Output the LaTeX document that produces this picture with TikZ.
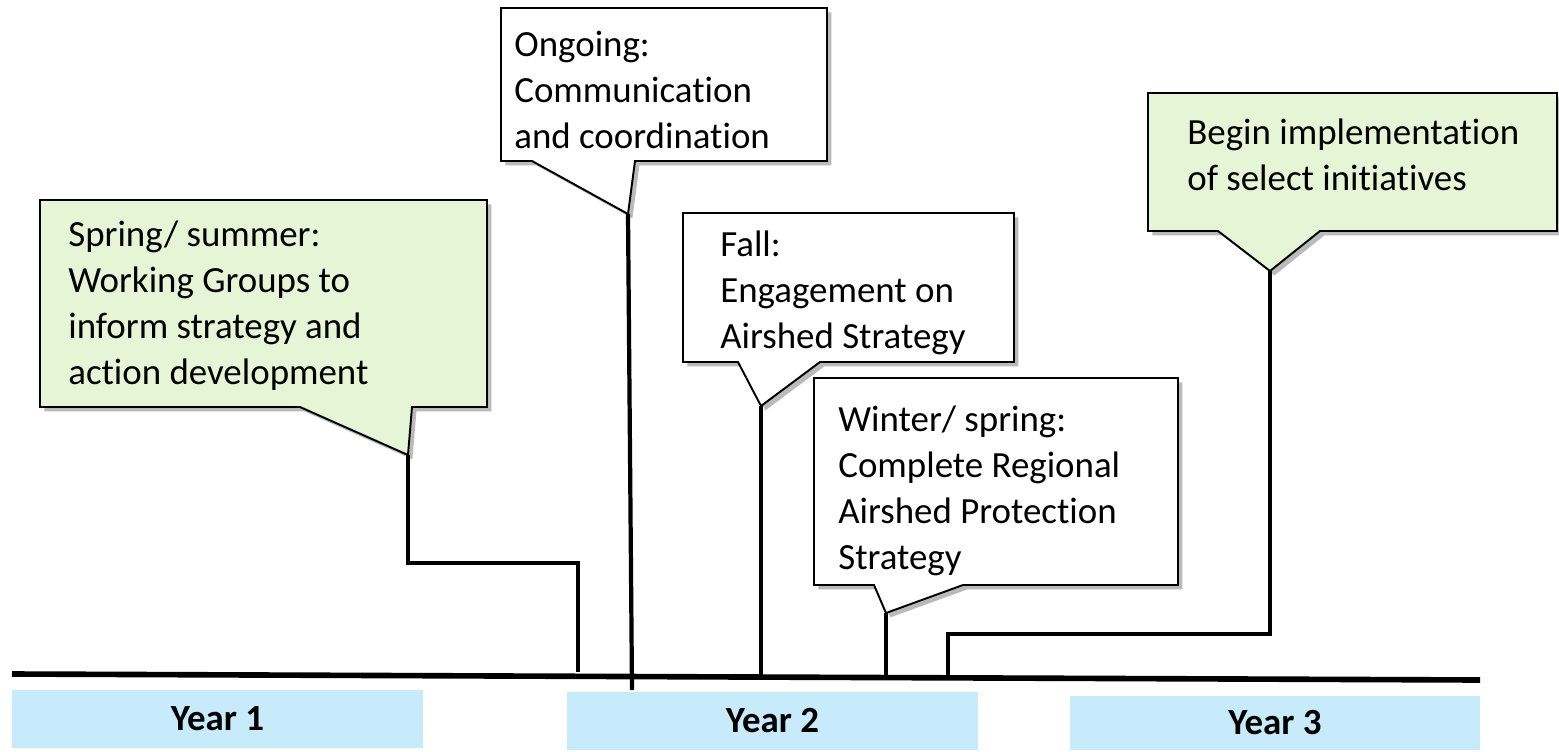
\documentclass[tikz,border=0pt]{standalone}
\usepackage{fontspec}
\setmainfont[Ligatures={NoCommon,NoContextual},RawFeature={-liga;-clig;-calt}]{Carlito}
\usetikzlibrary{shadows}
\definecolor{calgreen}{RGB}{229,245,213}
\definecolor{yearblue}{RGB}{199,235,251}
\begin{document}
\begin{tikzpicture}[x=0.02cm,y=-0.02cm,
  callout/.style={draw=black, line width=1.1pt, line join=miter,
    drop shadow={shadow xshift=2.5pt, shadow yshift=-2.5pt, opacity=0.45, fill=black!60}},
  ctext/.style={anchor=north west, inner sep=0pt, align=left, font=\fontsize{21}{26}\selectfont},
  link/.style={line width=2.4pt},
  yearbox/.style={fill=yearblue, inner sep=0pt, minimum width=8.22cm, font=\fontsize{21}{25}\selectfont\bfseries}]
\useasboundingbox (0,0) rectangle (1559,751);

% year boxes
\node[yearbox, minimum height=1.16cm] (y1) at (217.5,719) {Year 1};
\node[yearbox, minimum height=1.16cm] (y2) at (772.5,721) {Year 2};
\node[yearbox, minimum width=8.2cm, minimum height=1.08cm] (y3) at (1275,723) {Year 3};

% timeline
\coordinate (tl0) at (12,674);
\coordinate (tl1) at (1480,680);
\draw[line width=3.2pt] (tl0) -- (tl1);

% callouts
\path[callout, fill=calgreen] (40,200) -- (487,200) -- (487,407) -- (412,407) -- (408,455) -- (300,407) -- (40,407) -- cycle;
\coordinate (t1) at (408,455);
\node[ctext] (c1) at (68,221) {Spring/ summer:\\Working Groups to\\inform strategy and\\action development};

\path[callout, fill=white] (501,8) -- (827,8) -- (827,161) -- (635,161) -- (628,214) -- (532,161) -- (501,161) -- cycle;
\coordinate (t2) at (628,214);
\node[ctext] (c2) at (514,31) {Ongoing:\\Communication\\and coordination};

\path[callout, fill=white] (683,213) -- (1014,213) -- (1014,362) -- (820,362) -- (761,406) -- (738,362) -- (683,362) -- cycle;
\coordinate (t3) at (761,406);
\node[ctext] (c3) at (720,231) {Fall:\\Engagement on\\Airshed Strategy};

\path[callout, fill=white] (814,378) -- (1178,378) -- (1178,585) -- (963,585) -- (886,613) -- (874,585) -- (814,585) -- cycle;
\coordinate (t4) at (886,613);
\node[ctext] (c4) at (838,406) {Winter/ spring:\\Complete Regional\\Airshed Protection\\Strategy};

\path[callout, fill=calgreen] (1148,93) -- (1557,93) -- (1557,231) -- (1320,231) -- (1270,271) -- (1218,231) -- (1148,231) -- cycle;
\coordinate (t5) at (1270,271);
\node[ctext] (c5) at (1187,119) {Begin implementation\\of select initiatives};

% connector end points
\coordinate (e1a) at (408,563);
\coordinate (e1b) at (578,563);
\coordinate (e1) at (578,672);
\coordinate (e2) at (632,690);
\coordinate (e3) at (761,678);
\coordinate (e4) at (886,677);
\coordinate (e5a) at (1270,634);
\coordinate (e5b) at (948,634);
\coordinate (e5) at (948,678);

\draw[link] (t1) -- (e1a) -- (e1b) -- (e1);
\draw[link] (t2) -- (e2);
\draw[link] (t3) -- (e3);
\draw[link] (t4) -- (e4);
\draw[link] (t5) -- (e5a) -- (e5b) -- (e5);
\end{tikzpicture}
\end{document}
